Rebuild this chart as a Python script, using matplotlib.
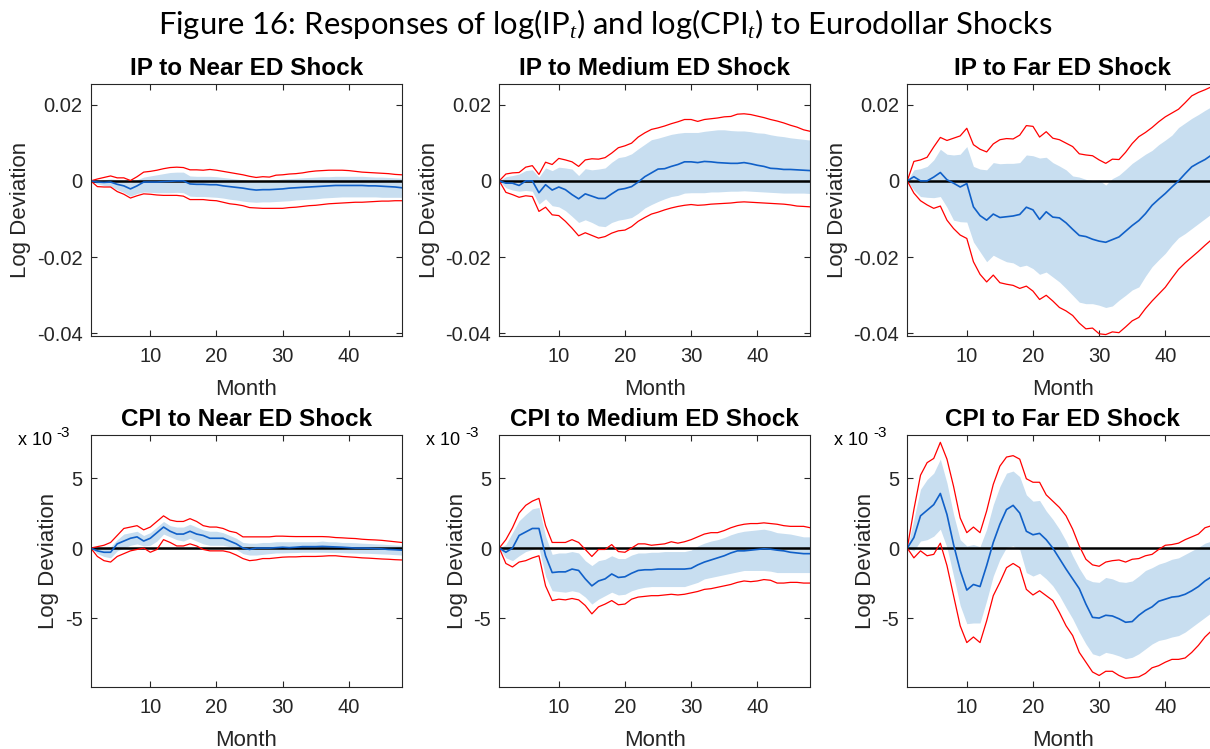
import numpy as np
import matplotlib
matplotlib.use("Agg")
import matplotlib.pyplot as plt

plt.rcParams['font.family'] = ['Liberation Sans', 'DejaVu Sans']
plt.rcParams['mathtext.fontset'] = 'custom'
plt.rcParams['mathtext.rm'] = 'Lato'
plt.rcParams['mathtext.it'] = 'Liberation Serif:italic'

# all responses in units of 1e-3, months 1..48
months = np.arange(1, 49)

# IP to near ED shock
ip_near_mid = [0, -0.3, -0.4, -0.3, -0.9, -1.3, -2.1, -1.3, -0.3, -0.3, -0.3, -0.2, -0.1, 0, 0, -0.8,
               -0.9, -0.9, -1.0, -1.0, -1.3, -1.5, -1.7, -1.9, -2.2, -2.4, -2.3, -2.3, -2.2, -2.1, -1.9, -1.8,
               -1.7, -1.6, -1.5, -1.4, -1.3, -1.2, -1.2, -1.2, -1.2, -1.2, -1.3, -1.3, -1.4, -1.5, -1.6, -1.8]
ip_near_hi68 = [0, 0.1, 0.3, 0.5, 0.3, 0.1, -0.5, 0.3, 1.0, 1.3, 1.6, 1.9, 2.2, 2.3, 2.3, 1.3,
                1.2, 1.2, 1.2, 1.1, 0.9, 0.7, 0.5, 0.3, 0.1, 0.0, 0.1, 0.2, 0.3, 0.5, 0.6, 0.7,
                0.8, 0.9, 1.0, 1.1, 1.1, 1.2, 1.2, 1.2, 1.2, 1.2, 1.1, 1.0, 1.0, 0.9, 0.8, 0.7]
ip_near_lo68 = [0, -0.8, -1.2, -1.4, -2.3, -3.0, -4.0, -3.3, -2.9, -3.0, -3.1, -3.1, -3.1, -3.0, -3.1, -4.0,
                -4.1, -4.1, -4.2, -4.3, -4.5, -4.8, -5.0, -5.3, -5.5, -5.6, -5.5, -5.5, -5.4, -5.3, -5.2, -5.0,
                -4.9, -4.8, -4.7, -4.5, -4.4, -4.3, -4.2, -4.2, -4.2, -4.2, -4.2, -4.2, -4.3, -4.3, -4.3, -4.3]
ip_near_hi90 = [0, 0.5, 0.9, 1.3, 0.8, 0.8, 0.1, 1.1, 2.3, 2.5, 2.8, 3.2, 3.5, 3.6, 3.5, 2.9,
                2.9, 2.8, 3.0, 2.8, 2.5, 2.2, 1.9, 1.6, 1.2, 0.9, 1.1, 1.0, 1.5, 1.6, 1.8, 1.9,
                2.1, 2.4, 2.6, 2.7, 2.8, 2.8, 2.8, 2.7, 2.5, 2.3, 2.2, 2.1, 2.0, 1.9, 1.7, 1.6]
ip_near_lo90 = [0, -1.5, -1.6, -1.6, -2.8, -3.5, -4.5, -3.9, -3.4, -3.5, -3.7, -3.8, -3.8, -3.8, -4.0, -4.9,
                -4.9, -4.9, -5.1, -5.2, -5.6, -6.0, -6.2, -6.5, -7.0, -7.1, -7.2, -7.2, -7.2, -7.2, -7.0, -6.9,
                -6.7, -6.5, -6.4, -6.2, -6.0, -5.9, -5.8, -5.7, -5.6, -5.6, -5.5, -5.4, -5.3, -5.3, -5.2, -5.2]

# IP to medium ED shock
ip_med_mid = [0, -0.6, -0.6, -1.2, 0, 0, -3.1, -1.0, -2.4, -1.6, -2.3, -3.6, -4.7, -3.4, -4.0, -4.6,
              -4.6, -3.4, -2.3, -2.0, -1.5, -0.3, 1.1, 2.1, 3.1, 3.2, 3.8, 4.3, 5.0, 5.0, 4.8, 5.1,
              5.0, 4.8, 4.7, 4.6, 4.6, 4.8, 4.5, 4.1, 3.8, 3.3, 3.2, 3.0, 3.0, 2.9, 2.8, 2.7]
ip_med_hi68 = [0, 1.1, 1.4, 1.8, 2.7, 2.9, 1.0, 3.4, 2.7, 3.6, 3.4, 3.1, 1.4, 3.2, 2.9, 3.1,
               3.4, 4.9, 6.1, 6.4, 7.1, 8.4, 9.6, 10.8, 11.2, 11.7, 12.2, 12.5, 12.7, 12.7, 12.7, 13.0,
               13.2, 13.4, 13.4, 13.2, 13.1, 13.1, 12.9, 12.6, 12.5, 12.1, 11.8, 11.6, 11.3, 11.1, 10.9, 10.7]
ip_med_lo68 = [0, -1.8, -2.4, -2.7, -2.5, -2.7, -6.1, -4.7, -6.5, -6.8, -7.8, -9.3, -10.9, -10.2, -10.9, -11.8,
               -12.0, -10.9, -10.3, -10.0, -9.6, -8.5, -7.1, -6.2, -5.4, -4.7, -4.1, -3.8, -3.2, -3.1, -3.1, -3.1,
               -2.9, -2.9, -2.8, -2.7, -2.7, -2.6, -2.7, -2.8, -2.9, -3.0, -3.1, -3.2, -3.2, -3.2, -3.2, -3.3]
ip_med_hi90 = [0, 1.8, 2.1, 2.2, 3.6, 4.0, 1.7, 4.9, 4.3, 5.9, 5.5, 5.0, 3.8, 5.5, 5.8, 5.7,
               6.1, 7.3, 8.7, 9.2, 9.9, 11.5, 12.6, 13.5, 13.9, 14.4, 15.0, 15.5, 16.1, 16.1, 15.6, 16.1,
               16.3, 16.5, 16.8, 16.9, 17.5, 17.6, 17.4, 17.0, 16.6, 16.1, 15.7, 15.2, 14.6, 14.1, 13.4, 13.0]
ip_med_lo90 = [0, -3.0, -3.6, -4.3, -3.9, -4.1, -8.0, -6.9, -8.9, -9.1, -10.6, -12.4, -14.4, -13.6, -14.3, -15.0,
               -14.6, -13.7, -13.1, -12.9, -12.0, -10.6, -9.6, -8.7, -8.2, -7.6, -7.1, -6.7, -6.4, -6.2, -6.4, -6.3,
               -6.1, -6.0, -5.9, -5.8, -5.6, -5.5, -5.6, -5.7, -5.8, -5.9, -6.0, -6.1, -6.3, -6.6, -6.7, -6.8]

# IP to far ED shock
ip_far_mid = [0, 1.1, 0, 0, 1.0, 2.2, 0.3, -0.6, -1.6, -0.7, -6.8, -9.1, -10.3, -8.7, -9.6, -9.4,
              -9.2, -8.8, -6.9, -7.6, -10.1, -8.1, -9.5, -9.7, -11.0, -12.7, -14.3, -14.6, -15.3, -15.8, -16.1, -15.4,
              -14.7, -13.2, -11.7, -10.4, -8.6, -6.4, -4.8, -3.3, -1.6, 0.0, 1.9, 3.7, 4.7, 5.6, 6.8, 7.8]
ip_far_hi68 = [0, 2.9, 3.2, 3.8, 5.5, 8.3, 7.0, 6.8, 7.0, 9.0, 3.8, 3.1, 2.9, 4.8, 4.5, 4.6,
               4.6, 4.8, 6.8, 6.6, 6.0, 6.2, 4.8, 3.9, 2.9, 1.3, 1.0, 0.4, 0.1, 0.2, -1.1, 0.6,
               1.5, 3.0, 4.6, 5.8, 7.0, 8.0, 9.5, 10.7, 12.0, 14.0, 15.2, 16.4, 17.4, 18.5, 19.5, 20.3]
ip_far_lo68 = [0, -2.4, -4.1, -4.3, -4.4, -4.1, -6.9, -10.3, -10.7, -10.8, -16.0, -18.6, -21.2, -19.5, -20.4, -21.2,
               -21.5, -22.5, -22.1, -23.0, -24.5, -23.9, -25.2, -26.5, -28.2, -30.0, -31.8, -32.2, -32.2, -32.6, -33.2, -32.8,
               -31.3, -30.0, -28.6, -27.8, -25.0, -22.5, -20.7, -19.0, -16.8, -14.9, -13.8, -12.5, -11.2, -9.9, -8.6, -7.6]
ip_far_hi90 = [0, 5.1, 5.5, 6.2, 8.9, 11.4, 10.6, 11.2, 11.8, 13.8, 9.5, 8.3, 7.6, 9.7, 10.8, 11.1,
               11.0, 12.0, 14.5, 14.3, 11.5, 12.9, 11.2, 10.8, 9.9, 9.0, 7.1, 6.8, 6.6, 5.5, 4.6, 5.7,
               5.6, 7.5, 9.8, 11.6, 12.7, 14.0, 15.5, 16.8, 17.8, 18.8, 20.5, 22.3, 23.2, 23.9, 24.7, 25.3]
ip_far_lo90 = [0, -3.2, -5.2, -6.3, -7.2, -6.6, -10.3, -12.5, -14.2, -15.1, -21.2, -24.5, -26.5, -24.7, -26.7, -27.1,
               -27.4, -28.2, -27.6, -28.9, -31.1, -30.0, -31.5, -33.2, -34.1, -35.3, -37.3, -38.8, -38.6, -40.1, -40.3, -39.6,
               -39.8, -38.3, -36.7, -35.8, -33.5, -31.5, -29.7, -27.9, -25.5, -23.2, -21.5, -20.0, -18.5, -16.9, -15.4, -14.2]

# CPI to near ED shock
cpi_near_mid = [0, -0.2, -0.3, -0.3, 0.3, 0.5, 0.7, 0.8, 0.5, 0.7, 1.1, 1.5, 1.2, 1.0, 1.0, 1.2,
                1.0, 0.9, 0.7, 0.7, 0.7, 0.5, 0.3, 0.0, -0.1, 0.0, 0.0, 0.0, 0.03, 0.06, 0.03, 0.06,
                0.1, 0.1, 0.1, 0.12, 0.1, 0.08, 0.06, 0.03, 0.0, 0.0, -0.01, -0.04, -0.06, -0.1, -0.12, -0.15]
cpi_near_hi68 = [0, 0.0, 0.0, 0.1, 0.6, 1.0, 1.1, 1.2, 0.9, 1.1, 1.5, 1.9, 1.6, 1.5, 1.5, 1.7,
                 1.5, 1.3, 1.2, 1.2, 1.1, 0.9, 0.7, 0.4, 0.35, 0.35, 0.4, 0.4, 0.45, 0.45, 0.45, 0.45,
                 0.45, 0.45, 0.45, 0.5, 0.45, 0.45, 0.4, 0.4, 0.38, 0.35, 0.33, 0.3, 0.28, 0.25, 0.22, 0.2]
cpi_near_lo68 = [0, -0.4, -0.6, -0.7, -0.2, 0.0, 0.2, 0.3, 0.15, 0.2, 0.5, 1.0, 0.8, 0.6, 0.5, 0.7,
                 0.5, 0.3, 0.2, 0.2, 0.2, 0.1, -0.1, -0.4, -0.5, -0.5, -0.45, -0.4, -0.35, -0.35, -0.33, -0.32,
                 -0.3, -0.3, -0.3, -0.3, -0.31, -0.32, -0.33, -0.35, -0.36, -0.37, -0.38, -0.4, -0.42, -0.44, -0.47, -0.5]
cpi_near_hi90 = [0, 0.1, 0.2, 0.4, 0.9, 1.4, 1.5, 1.6, 1.3, 1.5, 1.9, 2.3, 2.0, 1.9, 1.9, 2.1,
                 1.9, 1.6, 1.5, 1.5, 1.4, 1.2, 1.1, 0.8, 0.8, 0.8, 0.8, 0.8, 0.85, 0.85, 0.83, 0.82,
                 0.82, 0.82, 0.82, 0.82, 0.8, 0.75, 0.73, 0.7, 0.68, 0.63, 0.6, 0.58, 0.55, 0.5, 0.45, 0.4]
cpi_near_lo90 = [0, -0.6, -0.9, -1.0, -0.6, -0.4, -0.2, -0.1, 0.0, -0.3, -0.1, 0.6, 0.4, 0.15, 0.15, 0.3,
                 0.15, -0.1, -0.2, -0.2, -0.2, -0.3, -0.5, -0.75, -0.9, -0.85, -0.75, -0.75, -0.7, -0.65, -0.63, -0.63,
                 -0.6, -0.6, -0.6, -0.58, -0.55, -0.55, -0.6, -0.63, -0.66, -0.7, -0.72, -0.75, -0.78, -0.8, -0.83, -0.85]

# CPI to medium ED shock
cpi_med_mid = [0, -0.3, 0.0, 0.9, 1.15, 1.4, 1.4, -0.55, -1.75, -1.7, -1.7, -1.5, -1.6, -2.2, -2.7, -2.35,
               -2.2, -1.85, -2.1, -2.05, -1.8, -1.6, -1.55, -1.55, -1.5, -1.5, -1.5, -1.5, -1.5, -1.45, -1.2, -1.0,
               -0.85, -0.7, -0.55, -0.35, -0.2, -0.2, -0.15, -0.1, -0.05, -0.08, -0.15, -0.2, -0.3, -0.35, -0.4, -0.4]
cpi_med_hi68 = [0, 0.25, 1.1, 1.95, 2.4, 2.8, 2.9, 0.85, -0.45, -0.35, -0.35, -0.25, -0.35, -0.9, -1.25, -0.9,
                -0.8, -0.55, -0.75, -0.75, -0.5, -0.35, -0.35, -0.3, -0.3, -0.25, -0.25, -0.25, -0.25, -0.15, 0.15, 0.35,
                0.5, 0.6, 0.75, 0.95, 1.1, 1.2, 1.25, 1.3, 1.35, 1.25, 1.1, 1.05, 1.0, 0.9, 0.8, 0.8]
cpi_med_lo68 = [0, -0.7, -0.9, -0.55, -0.25, -0.1, 0.0, -2.0, -3.05, -3.1, -3.15, -3.05, -3.15, -3.5, -4.0, -3.65,
                -3.4, -3.15, -3.35, -3.3, -3.05, -2.9, -2.8, -2.75, -2.75, -2.75, -2.75, -2.75, -2.75, -2.6, -2.45, -2.2,
                -2.1, -2.0, -1.9, -1.8, -1.7, -1.6, -1.6, -1.6, -1.6, -1.65, -1.75, -1.75, -1.75, -1.75, -1.75, -1.75]
cpi_med_hi90 = [0, 0.6, 1.45, 2.5, 3.05, 3.35, 3.55, 1.6, 0.4, 0.4, 0.4, 0.6, 0.4, -0.1, -0.6, -0.1,
                -0.1, 0.25, -0.25, -0.3, 0.0, 0.3, 0.3, 0.2, 0.25, 0.3, 0.45, 0.35, 0.45, 0.6, 0.8, 1.0,
                1.1, 1.1, 1.25, 1.45, 1.6, 1.7, 1.75, 1.75, 1.8, 1.75, 1.7, 1.6, 1.55, 1.55, 1.55, 1.45]
cpi_med_lo90 = [0, -1.1, -1.35, -1.0, -0.9, -0.7, -0.55, -2.7, -3.75, -3.65, -3.7, -3.6, -3.7, -4.1, -4.7, -4.2,
                -4.0, -3.75, -4.05, -4.0, -3.65, -3.5, -3.45, -3.4, -3.4, -3.35, -3.3, -3.35, -3.3, -3.2, -3.1, -2.95,
                -2.9, -2.8, -2.7, -2.6, -2.45, -2.35, -2.4, -2.35, -2.25, -2.3, -2.5, -2.5, -2.45, -2.45, -2.5, -2.5]

# CPI to far ED shock
cpi_far_mid = [0, 0.75, 2.3, 2.7, 3.1, 3.9, 2.4, 0.25, -1.6, -3.0, -2.6, -2.75, -1.25, 0.4, 1.7, 2.75,
               3.05, 2.5, 1.2, 0.95, 1.05, 0.6, 0.0, -0.75, -1.5, -2.2, -2.9, -4.0, -4.95, -5.0, -4.8, -4.85,
               -5.05, -5.3, -5.25, -4.8, -4.45, -4.2, -3.8, -3.65, -3.5, -3.45, -3.3, -3.05, -2.75, -2.35, -2.05, -1.75]
cpi_far_hi68 = [0, 2.05, 4.2, 4.9, 5.35, 6.35, 4.65, 2.4, 0.6, 0.15, 0.25, 0.1, 1.35, 3.1, 4.4, 5.35,
                5.5, 5.1, 3.8, 3.35, 3.4, 2.65, 2.05, 1.35, 0.5, -0.55, -1.45, -2.2, -2.4, -2.45, -2.1, -2.2,
                -2.4, -2.45, -2.35, -2.0, -1.6, -1.4, -1.15, -1.0, -0.8, -0.7, -0.45, -0.2, 0.05, 0.35, 0.5, 0.7]
cpi_far_lo68 = [0, -0.2, 0.5, 0.6, 0.85, 1.35, 0.05, -2.0, -4.1, -5.4, -5.35, -5.35, -3.75, -2.0, -0.8, 0.05,
                0.15, -0.1, -1.75, -2.0, -1.8, -2.2, -2.7, -3.4, -4.25, -5.05, -6.0, -6.85, -7.55, -7.7, -7.45, -7.55,
                -7.7, -7.9, -7.8, -7.55, -7.2, -6.85, -6.6, -6.5, -6.35, -6.25, -6.0, -5.65, -5.3, -4.95, -4.6, -4.3]
cpi_far_hi90 = [0, 2.75, 5.2, 6.1, 6.4, 7.55, 6.35, 4.4, 2.15, 1.1, 1.5, 1.1, 2.65, 4.55, 5.85, 6.5,
                6.6, 6.35, 4.95, 4.7, 4.7, 3.8, 3.35, 2.9, 2.3, 1.35, 0.15, -0.8, -1.2, -1.3, -1.0, -0.9,
                -0.85, -1.0, -0.8, -0.75, -0.55, -0.45, -0.1, 0.2, 0.25, 0.35, 0.6, 0.8, 1.0, 1.45, 1.6, 1.7]
cpi_far_lo90 = [0, -0.7, -0.2, -0.55, -0.45, 0.35, -1.25, -3.4, -5.55, -6.75, -6.35, -6.75, -5.2, -3.4, -2.45, -1.4,
                -1.1, -1.4, -2.95, -3.35, -3.05, -3.4, -3.75, -4.6, -5.55, -6.25, -7.45, -8.15, -8.85, -9.1, -8.8, -8.8,
                -9.1, -9.3, -9.25, -9.2, -8.95, -8.55, -8.4, -8.15, -7.95, -7.95, -7.85, -7.45, -6.95, -6.35, -5.9, -5.6]

titles = ['IP to Near ED Shock', 'IP to Medium ED Shock', 'IP to Far ED Shock',
          'CPI to Near ED Shock', 'CPI to Medium ED Shock', 'CPI to Far ED Shock']
panels = [
    (ip_near_mid, ip_near_lo68, ip_near_hi68, ip_near_lo90, ip_near_hi90),
    (ip_med_mid, ip_med_lo68, ip_med_hi68, ip_med_lo90, ip_med_hi90),
    (ip_far_mid, ip_far_lo68, ip_far_hi68, ip_far_lo90, ip_far_hi90),
    (cpi_near_mid, cpi_near_lo68, cpi_near_hi68, cpi_near_lo90, cpi_near_hi90),
    (cpi_med_mid, cpi_med_lo68, cpi_med_hi68, cpi_med_lo90, cpi_med_hi90),
    (cpi_far_mid, cpi_far_lo68, cpi_far_hi68, cpi_far_lo90, cpi_far_hi90),
]

ip_ticks = [-0.04, -0.02, 0, 0.02]
ip_ticklabels = ['-0.04', '-0.02', '0', '0.02']
cpi_ticks = [-5, 0, 5]
cpi_ticklabels = ['-5', '0', '5']
month_ticks = [10, 20, 30, 40]

axcol = '#262626'
fig = plt.figure(figsize=(12.1, 7.49), dpi=100)

lefts = [0.075, 0.4126, 0.7498]
bottoms = [0.5518, 0.0832]
w, h = 0.257, 0.3365

for i, (title, series) in enumerate(zip(titles, panels)):
    r, c = divmod(i, 3)
    ax = fig.add_axes([lefts[c], bottoms[r], w, h])
    # top row is plotted as log deviation, bottom row in units of 1e-3
    scale = 1e-3 if r == 0 else 1.0
    mid, lo68, hi68, lo90, hi90 = [np.array(s) * scale for s in series]
    ax.fill_between(months, lo68, hi68, color='#c8def0', lw=0)
    ax.axhline(0, color='black', lw=1.8)
    ax.plot(months, hi90, color='#ff0000', lw=0.9)
    ax.plot(months, lo90, color='#ff0000', lw=0.9)
    ax.plot(months, mid, color='#1060c8', lw=1.2)

    ax.set_xlim(1, 48)
    if r == 0:
        ax.set_ylim(-0.0406, 0.0255)
        ax.set_yticks(ip_ticks)
        ax.set_yticklabels(ip_ticklabels)
    else:
        ax.set_ylim(-9.9, 8.1)
        ax.set_yticks(cpi_ticks)
        ax.set_yticklabels(cpi_ticklabels)
        # MATLAB-style exponent label
        ax.text(-0.234, 0.958, 'x 10', transform=ax.transAxes,
                fontsize=13, color='black', va='baseline', ha='left')
        ax.text(-0.110, 0.99, '-3', transform=ax.transAxes,
                fontsize=11, color='black', va='baseline', ha='left')
    ax.set_xticks(month_ticks)
    ax.tick_params(direction='in', top=True, right=True, length=4.5, width=0.8,
                   labelsize=14.5, colors=axcol, labelcolor=axcol)
    ax.tick_params(axis='y', pad=6)
    ax.tick_params(axis='x', pad=8)
    for sp in ax.spines.values():
        sp.set_color(axcol)
        sp.set_linewidth(0.8)
    ax.set_xlabel('Month', fontsize=16, color=axcol, labelpad=9.5)
    ax.set_ylabel('Log Deviation', fontsize=16, color=axcol, labelpad=4)
    ax.set_title(title, fontsize=17.5, fontweight='bold', pad=6)

fig.text(0.5, 0.955, r'Figure 16: Responses of $\log(\mathrm{IP}_t)$ and $\log(\mathrm{CPI}_t)$ to Eurodollar Shocks',
         ha='center', va='baseline', fontsize=22.3, family='Lato')

fig.savefig('out.png', dpi=100)
